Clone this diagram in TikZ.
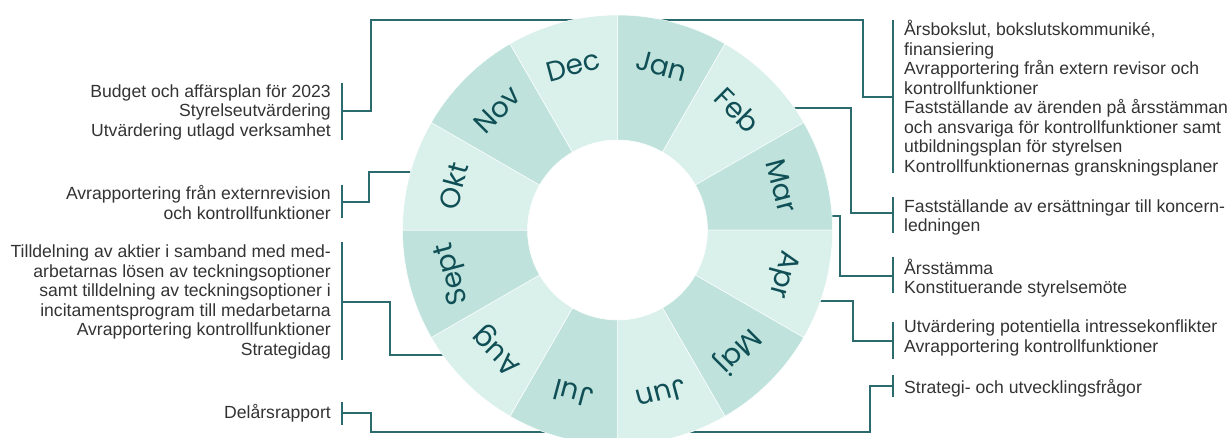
\documentclass[tikz,border=0pt]{standalone}
\usepackage{fontspec}
\setmainfont{Liberation Sans}
\newfontfamily\monthfont{Poppins}
\definecolor{segA}{HTML}{BFE3DC}
\definecolor{segB}{HTML}{DAF0EB}
\definecolor{mtext}{HTML}{0F4F55}
\definecolor{connc}{HTML}{2B6A6D}
\definecolor{bodyc}{HTML}{333333}
\begin{document}
\begin{tikzpicture}[x=1pt,y=-1pt,
  connector/.style={draw=connc, line width=1.4pt},
  bracketbar/.style={draw=connc, line width=1.4pt},
  sidetext/.style={text=bodyc, inner sep=0pt, font=\fontsize{17.6}{19.5}\selectfont},
  lefttext/.style={sidetext, anchor=east, align=right},
  righttext/.style={sidetext, anchor=west, align=left},
  month/.style={text=mtext, inner sep=0pt, font=\monthfont\fontsize{28}{28}\selectfont}
]
\useasboundingbox (0,0) rectangle (1231,437);

% text blocks
\node[lefttext] (tA) at (331,112) {Budget och affärsplan för 2023\\Styrelseutvärdering\\Utvärdering utlagd verksamhet};
\node[lefttext] (tB) at (331,202.5) {Avrapportering från externrevision\\och kontrollfunktioner};
\node[lefttext] (tC) at (331,302) {Tilldelning av aktier i samband med med-\\arbetarnas lösen av teckningsoptioner\\samt tilldelning av teckningsoptioner i\\incitamentsprogram till medarbetarna\\Avrapportering kontrollfunktioner\\Strategidag};
\node[lefttext] (tD) at (331,413) {Delårsrapport};
\node[righttext] (tE) at (904,98) {Årsbokslut, bokslutskommuniké,\\finansiering\\Avrapportering från extern revisor och\\kontrollfunktioner\\Fastställande av ärenden på årsstämman\\och ansvariga för kontrollfunktioner samt\\utbildningsplan för styrelsen\\Kontrollfunktionernas granskningsplaner};
\node[righttext] (tF) at (904,217.5) {Fastställande av ersättningar till koncern-\\ledningen};
\node[righttext] (tG) at (904,278) {Årsstämma\\Konstituerande styrelsemöte};
\node[righttext] (tH) at (904,338) {Utvärdering potentiella intressekonflikter\\Avrapportering kontrollfunktioner};
\node[righttext] (tI) at (904,388) {Strategi- och utvecklingsfrågor};

% bracket bars
\coordinate (bA1) at (342,83);  \coordinate (bA2) at (342,140); \coordinate (sA) at (342,111);
\coordinate (bB1) at (342,185); \coordinate (bB2) at (342,218); \coordinate (sB) at (342,202);
\coordinate (bC1) at (342,242); \coordinate (bC2) at (342,360); \coordinate (sC) at (342,302);
\coordinate (bD1) at (342,402); \coordinate (bD2) at (342,425); \coordinate (sD) at (342,413);
\coordinate (bE1) at (893,20);  \coordinate (bE2) at (893,173); \coordinate (sE) at (893,97);
\coordinate (bF1) at (893,197); \coordinate (bF2) at (893,233); \coordinate (sF) at (893,213);
\coordinate (bG1) at (893,257); \coordinate (bG2) at (893,293); \coordinate (sG) at (893,276);
\coordinate (bH1) at (893,322); \coordinate (bH2) at (893,359); \coordinate (sH) at (893,341);
\coordinate (bI1) at (893,375); \coordinate (bI2) at (893,397); \coordinate (sI) at (893,386);
\foreach \k in {A,B,C,D,E,F,G,H,I} { \draw[bracketbar] (b\k1) -- (b\k2); }

% ring entry points (hidden under the ring)
\coordinate (rTop) at (617.5,20);
\coordinate (rBot) at (617.5,432);
\coordinate (rB) at (480,172);
\coordinate (rC) at (500,355);
\coordinate (rF) at (740,108);
\coordinate (rG) at (760,216);
\coordinate (rH) at (760,301);

% connectors
\draw[connector] (sA) -- (371,111) |- (rTop);
\draw[connector] (sE) -- (863,97) |- (rTop);
\draw[connector] (sB) -- (369,202) |- (rB);
\draw[connector] (sC) -- (390,302) |- (rC);
\draw[connector] (sD) -- (371,413) |- (rBot);
\draw[connector] (sF) -- (851,213) |- (rF);
\draw[connector] (sG) -- (840,276) |- (rG);
\draw[connector] (sH) -- (853,341) |- (rH);
\draw[connector] (sI) -- (870,386) |- (rBot);

% ring
\begin{scope}[shift={(617.5,230)}, y=1pt]
\foreach \i/\m/\c in {0/Jan/segA,1/Feb/segB,2/Mar/segA,3/Apr/segB,4/Maj/segA,5/Jun/segB,6/Jul/segA,7/Aug/segB,8/Sept/segA,9/Okt/segB,10/Nov/segA,11/Dec/segB} {
  \pgfmathsetmacro\a{90-30*\i}
  \pgfmathsetmacro\b{60-30*\i}
  \pgfmathsetmacro\mid{75-30*\i}
  \pgfmathsetmacro\rot{\mid-90}
  \filldraw[fill=\c, draw=white, line width=0.5pt] (\a:215) arc[start angle=\a, end angle=\b, radius=215] -- (\b:90) arc[start angle=\b, end angle=\a, radius=90] -- cycle;
  \node[month, rotate=\rot] (m\i) at (\mid:170) {\m};
}
\end{scope}
\end{tikzpicture}
\end{document}
